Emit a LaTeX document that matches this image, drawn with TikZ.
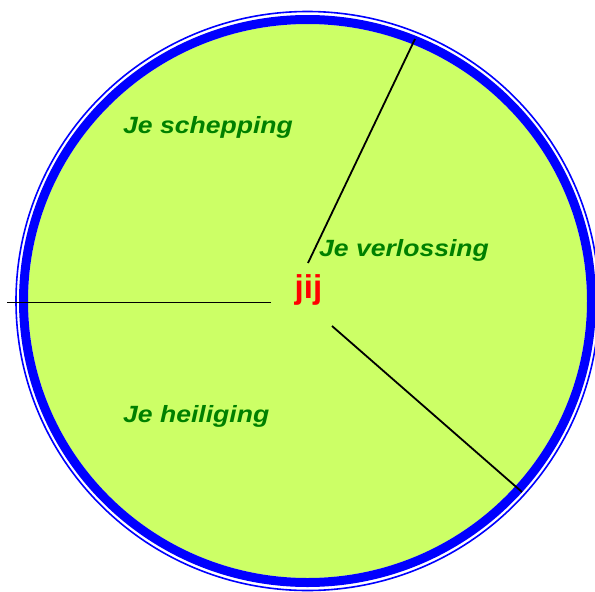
\documentclass[tikz,border=0pt]{standalone}
\usepackage{fontspec}
\setmainfont{Liberation Sans}
\definecolor{wheelfill}{HTML}{CCFF66}
\definecolor{wheelblue}{HTML}{0000FF}
\definecolor{labelgreen}{HTML}{008000}
\definecolor{centerred}{HTML}{FF0000}
\begin{document}
\begin{tikzpicture}[x=1pt,y=-1pt,
  spoke/.style={draw=black,line width=1.8pt},
  seglabel/.style={anchor=base west,inner sep=0pt,text=labelgreen,font=\fontsize{23.5}{26}\selectfont\bfseries\itshape},
  centerlabel/.style={anchor=base west,inner sep=0pt,text=centerred,font=\fontsize{33}{36}\selectfont\bfseries}]
\useasboundingbox (0,0) rectangle (595,592);
\coordinate (c) at (307.5,301);
\fill[wheelfill] (c) ellipse[x radius=279.5,y radius=277];
\draw[wheelblue,line width=9pt] (c) ellipse[x radius=284,y radius=281.5];
\draw[wheelblue,line width=1.6pt] (c) ellipse[x radius=291.5,y radius=289.5];
% spokes
\coordinate (s1a) at (308,263);
\coordinate (s1b) at (415,39);
\coordinate (s2a) at (271,302.5);
\coordinate (s2b) at (7,302.5);
\coordinate (s3a) at (332,326);
\coordinate (s3b) at (522,492);
\draw[spoke] (s1a) -- (s1b);
\draw[spoke] (s2a) -- (s2b);
\draw[spoke] (s3a) -- (s3b);
% labels
\node[seglabel] (schep) at (123,133.5) {\scalebox{1.13}[1]{Je schepping}};
\node[seglabel] (verl) at (319,256) {\scalebox{1.13}[1]{Je verlossing}};
\node[seglabel] (heil) at (123,422) {\scalebox{1.13}[1]{Je heiliging}};
\node[centerlabel] (jij) at (294.5,298) {jij};
\end{tikzpicture}
\end{document}
